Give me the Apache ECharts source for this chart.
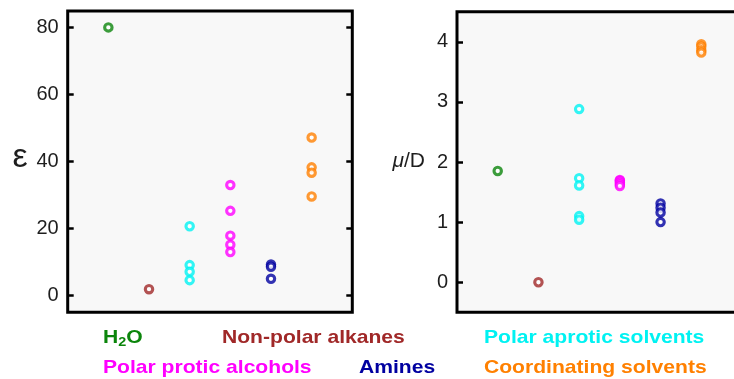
<!DOCTYPE html>
<html>
<head>
<meta charset="utf-8">
<script src="https://cdn.jsdelivr.net/npm/echarts@6/dist/echarts.min.js"></script>
<style>
  html, body { margin: 0; padding: 0; background: #ffffff; }
  #chart { width: 734px; height: 379px; }
</style>
</head>
<body>
<div id="chart"></div>
<script>
// Solvent classes, left to right
const categories = ['H2O', 'Non-polar alkanes', 'Polar aprotic solvents',
                    'Polar protic alcohols', 'Amines', 'Coordinating solvents'];

// Dielectric constant (epsilon) of each solvent, grouped by class
const epsilonH2O = [80.1];
const epsilonAlkanes = [1.9];
const epsilonAprotic = [20.7, 9.1, 7.1, 4.6];
const epsilonAlcohols = [33.0, 25.3, 17.9, 15.2, 13.0];
const epsilonAmines = [9.3, 8.6, 5.0];
const epsilonCoordinating = [47.2, 38.3, 36.7, 29.6];

// Dipole moment (Debye) of each solvent, grouped by class
const dipoleH2O = [1.85];
const dipoleAlkanes = [0.0];
const dipoleAprotic = [2.88, 1.73, 1.61, 1.10, 1.04];
const dipoleAlcohols = [1.70, 1.69, 1.66, 1.63, 1.60];
const dipoleAmines = [1.31, 1.24, 1.16, 1.00];
const dipoleCoordinating = [3.96, 3.92, 3.86, 3.82];

// Tick labels
const epsilonTicks = [0, 20, 40, 60, 80];
const dipoleTicks = [0, 1, 2, 3, 4];

const epsilonGroups = [epsilonH2O, epsilonAlkanes, epsilonAprotic,
                       epsilonAlcohols, epsilonAmines, epsilonCoordinating];
const dipoleGroups = [dipoleH2O, dipoleAlkanes, dipoleAprotic,
                      dipoleAlcohols, dipoleAmines, dipoleCoordinating];

const palette = ['#0b850b', '#a02828', '#00f2f2', '#ff00ff', '#0000a0', '#ff8000'];
const plotBg = '#f8f8f8';
const labelFont = "'Liberation Sans', Arial, Helvetica, sans-serif";

const chart = echarts.init(document.getElementById('chart'), null, { renderer: 'canvas' });

function valueAxisPair(gridIndex, min, max, ticks, withRightTicks) {
  const axes = [{
    type: 'value', gridIndex: gridIndex, position: 'left', min: min, max: max,
    axisLine: { show: false, onZero: false },
    axisTick: { show: true, inside: true, length: 6, customValues: ticks,
                lineStyle: { color: '#000', width: 2.5 } },
    axisLabel: { show: true, customValues: ticks, margin: 9, color: '#1e1e1e',
                 fontSize: 20, fontFamily: labelFont },
    splitLine: { show: false }
  }];
  if (withRightTicks) {
    axes.push({
      type: 'value', gridIndex: gridIndex, position: 'right', min: min, max: max,
      axisLine: { show: false, onZero: false },
      axisTick: { show: true, inside: true, length: 6, customValues: ticks,
                  lineStyle: { color: '#000', width: 2.5 } },
      axisLabel: { show: false },
      splitLine: { show: false }
    });
  }
  return axes;
}

const yAxes = [].concat(
  valueAxisPair(0, -5, 85, epsilonTicks, true),
  valueAxisPair(1, -0.5, 4.5, dipoleTicks, false)
);

const series = [];
function addSeries(groups, xAxisIndex, yAxisIndex) {
  groups.forEach(function (vals, i) {
    series.push({
      type: 'scatter',
      name: categories[i],
      xAxisIndex: xAxisIndex,
      yAxisIndex: yAxisIndex,
      symbol: 'circle',
      symbolSize: 7.4,
      itemStyle: { color: '#ffffff', borderColor: palette[i], borderWidth: 3.1 },
      silent: true,
      data: vals.map(function (v) { return [i, v]; })
    });
  });
}
addSeries(epsilonGroups, 0, 0);
addSeries(dipoleGroups, 1, 2);

// Class labels under the panels, in two rows
const legendSpots = [
  { x: 103, y: 338 }, { x: 222, y: 338 }, { x: 484, y: 338 },
  { x: 103, y: 368 }, { x: 359, y: 368 }, { x: 484, y: 368 }
];
const legendFont = 'bold 19px ' + labelFont;
const graphics = categories.map(function (name, i) {
  const style = {
    text: name, font: legendFont, fill: palette[i],
    align: 'left', verticalAlign: 'middle'
  };
  if (name === 'H2O') {
    style.text = '{n|H}{s|2}{n|O}';
    style.rich = {
      n: { font: legendFont, fill: palette[i] },
      s: { font: 'bold 13px ' + labelFont, fill: palette[i], padding: [9, 0, 0, 0] }
    };
  }
  return { type: 'text', x: legendSpots[i].x, y: legendSpots[i].y,
           scaleX: 1.11, style: style, silent: true };
});

chart.setOption({
  animation: false,
  backgroundColor: '#ffffff',
  grid: [
    { left: 67.7, top: 11, width: 284.6, height: 301.3, show: true,
      outerBoundsMode: 'none',
      backgroundColor: plotBg, borderColor: '#000', borderWidth: 3 },
    { left: 457, top: 11.7, width: 285, height: 300.6, show: true,
      outerBoundsMode: 'none',
      backgroundColor: plotBg, borderColor: '#000', borderWidth: 3 }
  ],
  xAxis: [
    { type: 'value', gridIndex: 0, min: -1, max: 6, show: false },
    { type: 'value', gridIndex: 1, min: -1, max: 6, show: false }
  ],
  yAxis: yAxes,
  series: series,
  graphic: graphics.concat([
    { type: 'text', x: 20, y: 158, silent: true,
      style: { text: 'ε', font: '34px ' + labelFont, fill: '#1e1e1e',
               align: 'center', verticalAlign: 'middle' } },
    { type: 'text', x: 425, y: 161, silent: true,
      style: { text: '{i|μ}{n|/D}', align: 'right', verticalAlign: 'middle',
               rich: {
                 i: { font: 'italic 21px ' + labelFont, fill: '#1e1e1e' },
                 n: { font: '21px ' + labelFont, fill: '#1e1e1e' }
               } } }
  ])
});
</script>
</body>
</html>
